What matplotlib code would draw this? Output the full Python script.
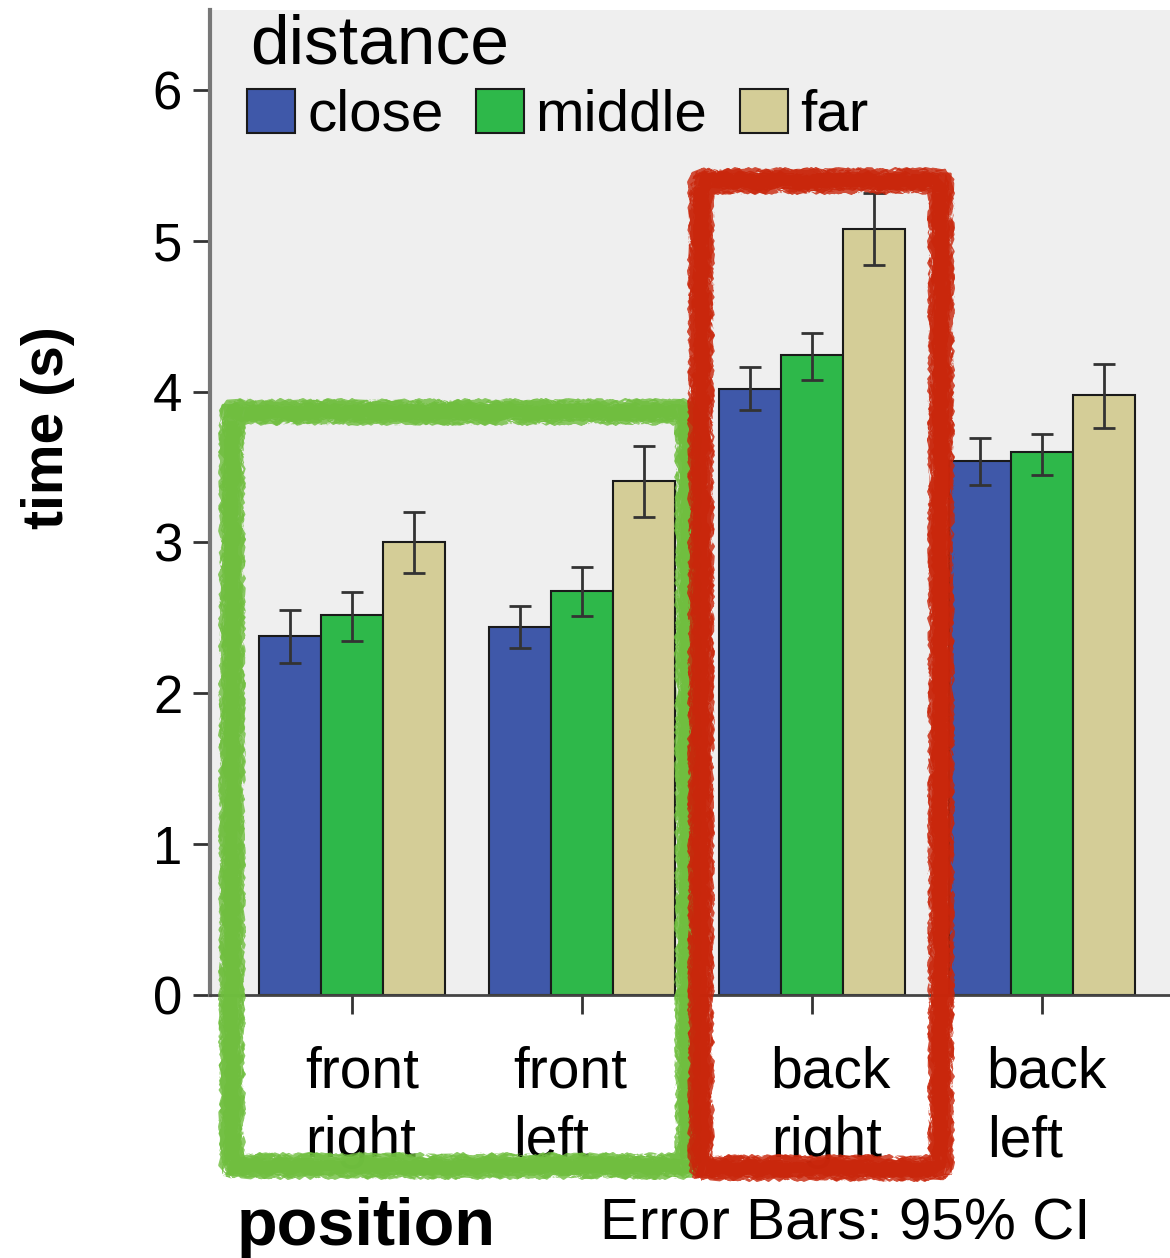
import matplotlib
matplotlib.use("Agg")
import matplotlib.pyplot as plt
import matplotlib.transforms as mtransforms
import numpy as np
from matplotlib.patches import Rectangle, Patch

plt.rcParams['font.family'] = ['Liberation Sans', 'DejaVu Sans']

positions = ["front\nright", "front\nleft", "back\nright", "back\nleft"]
series = ["close", "middle", "far"]
close_vals = [2.38, 2.44, 4.02, 3.54]
middle_vals = [2.52, 2.68, 4.24, 3.60]
far_vals = [3.00, 3.41, 5.08, 3.98]
close_lo = [2.20, 2.30, 3.88, 3.38]
close_hi = [2.55, 2.58, 4.16, 3.69]
middle_lo = [2.35, 2.51, 4.08, 3.45]
middle_hi = [2.67, 2.84, 4.39, 3.72]
far_lo = [2.80, 3.17, 4.84, 3.76]
far_hi = [3.20, 3.64, 5.32, 4.18]
colors = ["#3f58a9", "#2eb84a", "#d4cd97"]

W, H = 1170, 1258
fig = plt.figure(figsize=(W/100, H/100), dpi=100)
ax = fig.add_axes([210/W, 1-995/H, 1-210/W, (995-10)/H])
ax.set_facecolor("#efefef")

x = np.arange(len(positions))
bw = 0.27
vals = [close_vals, middle_vals, far_vals]
los = [close_lo, middle_lo, far_lo]
his = [close_hi, middle_hi, far_hi]
for i in range(3):
    v = np.array(vals[i]); lo = np.array(los[i]); hi = np.array(his[i])
    xs = x + (i-1)*bw
    ax.bar(xs, v, width=bw, color=colors[i], edgecolor="#1a1a1a", linewidth=1.5, zorder=2)
    ax.errorbar(xs, v, yerr=[v-lo, hi-v], fmt="none", ecolor="#333333",
                elinewidth=2, capsize=8, capthick=2, zorder=3)

ax.set_xlim(-0.617, 3.557)
ax.set_ylim(0, 6.53)
ax.set_yticks(range(7))
ax.set_yticklabels([str(i) for i in range(7)], fontsize=38)
ax.set_xticks(x)
ax.tick_params(axis='y', length=12, width=2, color="#333333", pad=8, direction='out')
ax.tick_params(axis='x', length=14, width=2, color="#333333", pad=22, direction='out')
ax.set_xticklabels(positions, fontsize=41, linespacing=1.38, multialignment="left")
label_dx = [10, -12, 19, 5]
for lbl, dx in zip(ax.get_xticklabels(), label_dx):
    lbl.set_transform(lbl.get_transform() + mtransforms.ScaledTranslation(dx/100, 0, fig.dpi_scale_trans))
for s in ["top", "right"]:
    ax.spines[s].set_visible(False)
ax.spines["left"].set_color("#777777")
ax.spines["left"].set_linewidth(3)
ax.spines["bottom"].set_color("#444444")
ax.spines["bottom"].set_linewidth(2)

fig.text(48/W, 1-428/H, "time (s)", rotation=90, fontsize=41, fontweight="bold",
         ha="center", va="center")
fig.text(237/W, 1-1228/H, "position", fontsize=48, fontweight="bold",
         ha="left", va="center")
fig.text(600/W, 1-1224/H, "Error Bars: 95% CI", fontsize=42, ha="left", va="center")

handles = [Patch(facecolor=colors[i], edgecolor="#1a1a1a", linewidth=1.5) for i in range(3)]
leg = ax.legend(handles, series, title="distance", ncol=3, loc="upper left",
                bbox_to_anchor=(212/W, 1+22/H), bbox_transform=fig.transFigure,
                frameon=False, fontsize=42, title_fontsize=50,
                handlelength=0.83, handleheight=0.78, handletextpad=0.2,
                columnspacing=0.55, borderpad=0.1, labelspacing=0.2,
                alignment="left")
leg.get_title().set_position((3, 0))

def rough_rect(x0, y0, x1, y1, color):
    for (sc, ln, rnd, lw) in [(2.0, 5, 4, 24), (1.5, 3, 3, 18), (1.0, 2, 2, 26)]:
        r = Rectangle((x0/W, 1-y1/H), (x1-x0)/W, (y1-y0)/H, transform=fig.transFigure,
                      fill=False, edgecolor=color, linewidth=lw*0.72, joinstyle="bevel",
                      capstyle="butt", alpha=0.8, zorder=10)
        r.set_sketch_params(scale=sc, length=ln, randomness=rnd)
        fig.add_artist(r)

rough_rect(232, 412, 688, 1166, "#6fbe3e")
rough_rect(701, 181, 941, 1168, "#c9260b")

fig.savefig("out.png", dpi=100, facecolor="white")
